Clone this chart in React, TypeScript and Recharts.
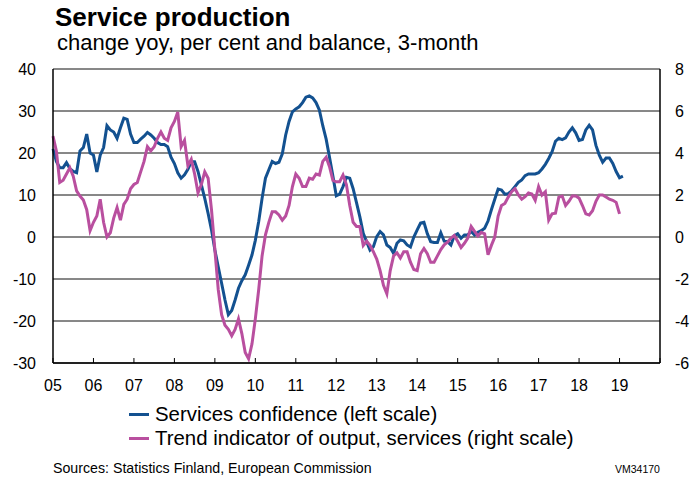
import React from 'react';
import { LineChart, Line, XAxis, YAxis, CartesianGrid } from 'recharts';

// monthly, Jan 2005 onwards
const yearLabels = ['05', '06', '07', '08', '09', '10', '11', '12', '13', '14', '15', '16', '17', '18', '19', ''];

// Services confidence, balance (left scale)
const confidence = [
  21, 18, 16.5, 16.5, 17.7, 16.3, 15.6, 15.3, 20.5, 21.3, 24.5, 20,
  19.5, 15.5, 19.5, 21.3, 26.5, 25.5, 25, 23.5, 26, 28.3, 28, 24.5,
  22.5, 22.5, 23.3, 24, 24.9, 24.3, 23.5, 22.5, 22, 22, 21.5, 19,
  17.5, 15.3, 14, 14.8, 16.1, 17.9, 17.9, 15.6, 12.4, 9.2, 5.6, 1.7,
  -3.1, -7.1, -11, -15, -18.5, -17.5, -15, -12.2, -10.4, -9, -6.7, -4.3,
  -0.8, 3.7, 9.2, 14, 16, 18, 17.5, 17.8, 19.8, 24.3, 27.5, 29.8,
  30.5, 31, 32, 33.3, 33.6, 33.1, 32, 30.2, 26.5, 23.3, 19, 14.5,
  9.8, 10.2, 12, 14.2, 14, 11.5, 8.2, 4.8, 0.9, -1.1, -3.1, -2.3,
  0.1, 1.3, 0.5, -1.9, -2.5, -3.9, -1.5, -0.7, -0.9, -1.9, -2.4, 0,
  1.7, 3.3, 3.5, 0.8, -1.1, -1.3, -1.3, 1.0, -1.0, -1.1, -1.9, 0.3,
  0.8, -0.3, 0.5, 0.5, 1.3, 0.5, 1.1, 1.5, 2.1, 3.8, 6.5, 9,
  11.4, 11.2, 10.2, 10.3, 11, 12, 13, 13.6, 14.6, 15, 15, 15,
  15.3, 16.2, 17.3, 18.7, 20.3, 22.8, 23.5, 23.2, 23.6, 25, 26, 24.8,
  23, 23.2, 25.5, 26.6, 25.5, 21.8, 19.5, 17.8, 18.8, 18.8, 17.5, 15.6,
  14.1, 14.5,
];

// Trend indicator of output, services, % yoy (right scale)
const trend = [
  4.8, 4.1, 2.6, 2.7, 3.0, 3.3, 2.9, 2.2, 1.95, 1.76, 1.3, 0.3,
  0.7, 1.0, 1.8, 0.7, 0.0, 0.2, 0.9, 1.4, 0.8, 1.55, 1.8, 2.3,
  2.5, 2.6, 3.1, 3.6, 4.3, 4.1, 4.3, 4.7, 5.0, 4.7, 4.6, 5.2,
  5.5, 5.95, 4.3, 4.6, 3.4, 3.7, 3.0, 2.1, 2.5, 3.1, 2.8, 1.3,
  -0.6, -2.5, -3.7, -4.2, -4.4, -4.7, -4.4, -3.9, -4.6, -5.5, -5.8, -5.1,
  -3.9, -2.5, -0.9, 0.1, 0.7, 1.2, 1.2, 1.05, 0.8, 1.0, 1.5, 2.4,
  3.0, 2.8, 2.4, 2.4, 2.8, 2.75, 3.0, 2.95, 3.6, 3.8, 3.35, 2.7,
  2.63, 2.63, 2.95, 2.5, 1.5, 0.7, 0.5, 0.5, -0.4, -0.2, -0.4, -0.7,
  -1.05, -1.6, -2.3, -2.7, -1.6, -0.9, -0.75, -1.0, -0.7, -0.7, -1.2, -1.55,
  -1.6, -0.8, -0.55, -0.8, -1.2, -1.2, -0.9, -0.6, -0.37, -0.25, -0.05, 0.07,
  -0.2, -0.5, -0.3, -0.05, 0.5, 0.27, 0.05, 0.22, 0.15, -0.85, -0.4, 0.0,
  1.0, 1.5, 1.6, 1.9, 2.16, 2.3, 2.0, 1.8, 1.92, 2.1, 2.05, 1.75,
  2.4, 2.0, 2.16, 0.8, 1.1, 1.13, 1.9, 1.95, 1.5, 1.7, 1.95, 1.95,
  1.85, 1.5, 1.1, 1.05, 1.25, 1.7, 2.0, 2.0, 1.9, 1.8, 1.75, 1.65,
  1.1,
];

const leftTicks = [-30, -20, -10, 0, 10, 20, 30, 40];
const rightTicks = [-6, -4, -2, 0, 2, 4, 6, 8];
const monthTicks = yearLabels.map((_, i) => i * 12);

const data = confidence.map((v, i) => ({
  m: i,
  confidence: v,
  trend: i < trend.length ? trend[i] : null,
}));

const FONT = '"Liberation Sans", Arial, sans-serif';
const BLUE = '#135190';
const PINK = '#b94f9f';

const YearTick = ({ x, y, payload }: any) => (
  <g>
    <line x1={x} x2={x} y1={y} y2={y - 5} stroke="#000" strokeWidth={1} />
    <text x={x} y={y + 28} textAnchor="middle" fontSize={16} fill="#000">
      {yearLabels[payload.value / 12]}
    </text>
  </g>
);

export default function App() {
  return (
    <div style={{ position: 'absolute', left: 0, top: 0, width: 694, height: 477, background: '#fff', fontFamily: FONT, color: '#000' }}>
      <div style={{ position: 'absolute', left: 55, top: 5, fontSize: 26, fontWeight: 'bold', lineHeight: '24px' }}>
        Service production
      </div>
      <div style={{ position: 'absolute', left: 57, top: 32, fontSize: 22, lineHeight: '21px' }}>
        change yoy, per cent and balance, 3-month
      </div>

      <div style={{ position: 'absolute', left: 0, top: 0 }}>
        <LineChart width={694} height={400} data={data} margin={{ top: 69, right: 0, bottom: 0, left: 0 }} style={{ fontFamily: FONT }}>
          <CartesianGrid yAxisId="left" vertical={false} stroke="#111" strokeWidth={1} />
          <XAxis
            dataKey="m"
            type="number"
            domain={[0, 180]}
            ticks={monthTicks}
            interval={0}
            height={37}
            tickSize={0}
            tickMargin={0}
            tickLine={false}
            axisLine={{ stroke: '#000', strokeWidth: 1.5 }}
            tick={<YearTick />}
          />
          <YAxis
            yAxisId="left"
            orientation="left"
            width={53}
            domain={[-30, 40]}
            ticks={leftTicks}
            interval={0}
            tickSize={0}
            tickMargin={17}
            tickLine={false}
            axisLine={{ stroke: '#000', strokeWidth: 1.5 }}
            tick={{ fill: '#000', fontSize: 16 }}
          />
          <YAxis
            yAxisId="right"
            orientation="right"
            width={34}
            domain={[-6, 8]}
            ticks={rightTicks}
            interval={0}
            tickSize={0}
            tickMargin={15}
            tickLine={false}
            axisLine={{ stroke: '#000', strokeWidth: 1.5 }}
            tick={{ fill: '#000', fontSize: 16 }}
          />
          <Line yAxisId="left" type="linear" dataKey="confidence" stroke={BLUE} strokeWidth={3} dot={false} isAnimationActive={false} />
          <Line yAxisId="right" type="linear" dataKey="trend" stroke={PINK} strokeWidth={3} dot={false} isAnimationActive={false} />
        </LineChart>
      </div>

      <div style={{ position: 'absolute', left: 129, top: 402, fontSize: 20.4, lineHeight: '24px' }}>
        {[
          { color: BLUE, label: 'Services confidence (left scale)' },
          { color: PINK, label: 'Trend indicator of output, services (right scale)' },
        ].map((item) => (
          <div key={item.label} style={{ display: 'flex', alignItems: 'center', height: 24 }}>
            <span style={{ display: 'inline-block', width: 20, height: 3, background: item.color, marginRight: 6 }} />
            <span>{item.label}</span>
          </div>
        ))}
      </div>

      <div style={{ position: 'absolute', left: 53, top: 461, fontSize: 14.2, lineHeight: 1 }}>
        Sources: Statistics Finland, European Commission
      </div>
      <div style={{ position: 'absolute', left: 615, top: 464, fontSize: 10.5, lineHeight: 1 }}>
        VM34170
      </div>
    </div>
  );
}
